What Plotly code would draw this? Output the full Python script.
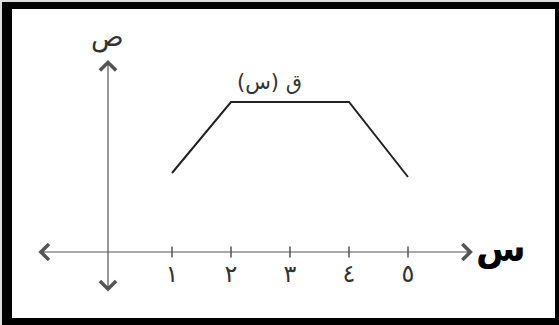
import plotly.graph_objects as go

# data
s_vals = [1, 2, 4, 5]
q_vals = [1.58, 3, 3, 1.5]
tick_vals = [1, 2, 3, 4, 5]
tick_text = ["١", "٢", "٣", "٤", "٥"]

axis_col = "#555555"
font_ar = "DejaVu Sans"

fig = go.Figure()

# the function q(s)
fig.add_trace(go.Scatter(x=s_vals, y=q_vals, mode="lines",
                         line=dict(color="#222222", width=2),
                         hoverinfo="skip", showlegend=False))

# small tick marks crossing the x axis
fig.add_trace(go.Scatter(x=tick_vals, y=[0] * len(tick_vals), mode="markers",
                         marker=dict(symbol="line-ns", size=8,
                                     line=dict(color=axis_col, width=1.5)),
                         hoverinfo="skip", showlegend=False))

# axes drawn as double arrows
arrow = dict(text="", showarrow=True, arrowhead=4, startarrowhead=4,
             arrowside="end+start", arrowsize=2.6, startarrowsize=2.6,
             arrowwidth=1.2, arrowcolor=axis_col, standoff=0, startstandoff=0,
             xref="x", yref="y", axref="x", ayref="y")
fig.add_annotation(x=6.1, y=0, ax=-1.29, ay=0, **arrow)
fig.add_annotation(x=-0.085, y=3.84, ax=-0.085, ay=-0.82, **arrow)

# labels
fig.add_annotation(x=-0.085, y=4.3, text="ص", showarrow=False,
                   font=dict(family=font_ar, size=27, color="#333333"))
fig.add_annotation(x=2.66, y=3.4, text="ق (س)", showarrow=False,
                   font=dict(family=font_ar, size=21, color="#333333"))
fig.add_annotation(x=6.58, y=0.08, text="<b>س</b>", showarrow=False,
                   font=dict(family=font_ar, size=36, color="#000000"))

# frame
fig.add_shape(type="rect", xref="paper", yref="paper", layer="below",
              x0=2 / 559, x1=1, y0=0, y1=1 - 2 / 325,
              fillcolor="#000000", line=dict(width=0))
fig.add_shape(type="rect", xref="paper", yref="paper", layer="below",
              x0=12 / 559, x1=555 / 559, y0=7 / 325, y1=1 - 9 / 325,
              fillcolor="#ffffff", line=dict(width=0))

fig.update_layout(
    width=559, height=325,
    margin=dict(l=0, r=0, t=0, b=0),
    paper_bgcolor="#dcdcdc", plot_bgcolor="rgba(0,0,0,0)",
    xaxis=dict(range=[-113 / 59, 446 / 59], showgrid=False, zeroline=False,
               showline=False, anchor="free", position=73 / 325,
               tickmode="array", tickvals=tick_vals, ticktext=tick_text,
               ticks="", ticklabelstandoff=5,
               tickfont=dict(family=font_ar, size=24, color="#333333")),
    yaxis=dict(range=[-73 / 50, 252 / 50], visible=False),
)

# page body has a default 8px margin; drop it so the figure fills the window
fig.write_html("out.html", config={"displayModeBar": False},
               post_script="document.body.style.margin='0';")
